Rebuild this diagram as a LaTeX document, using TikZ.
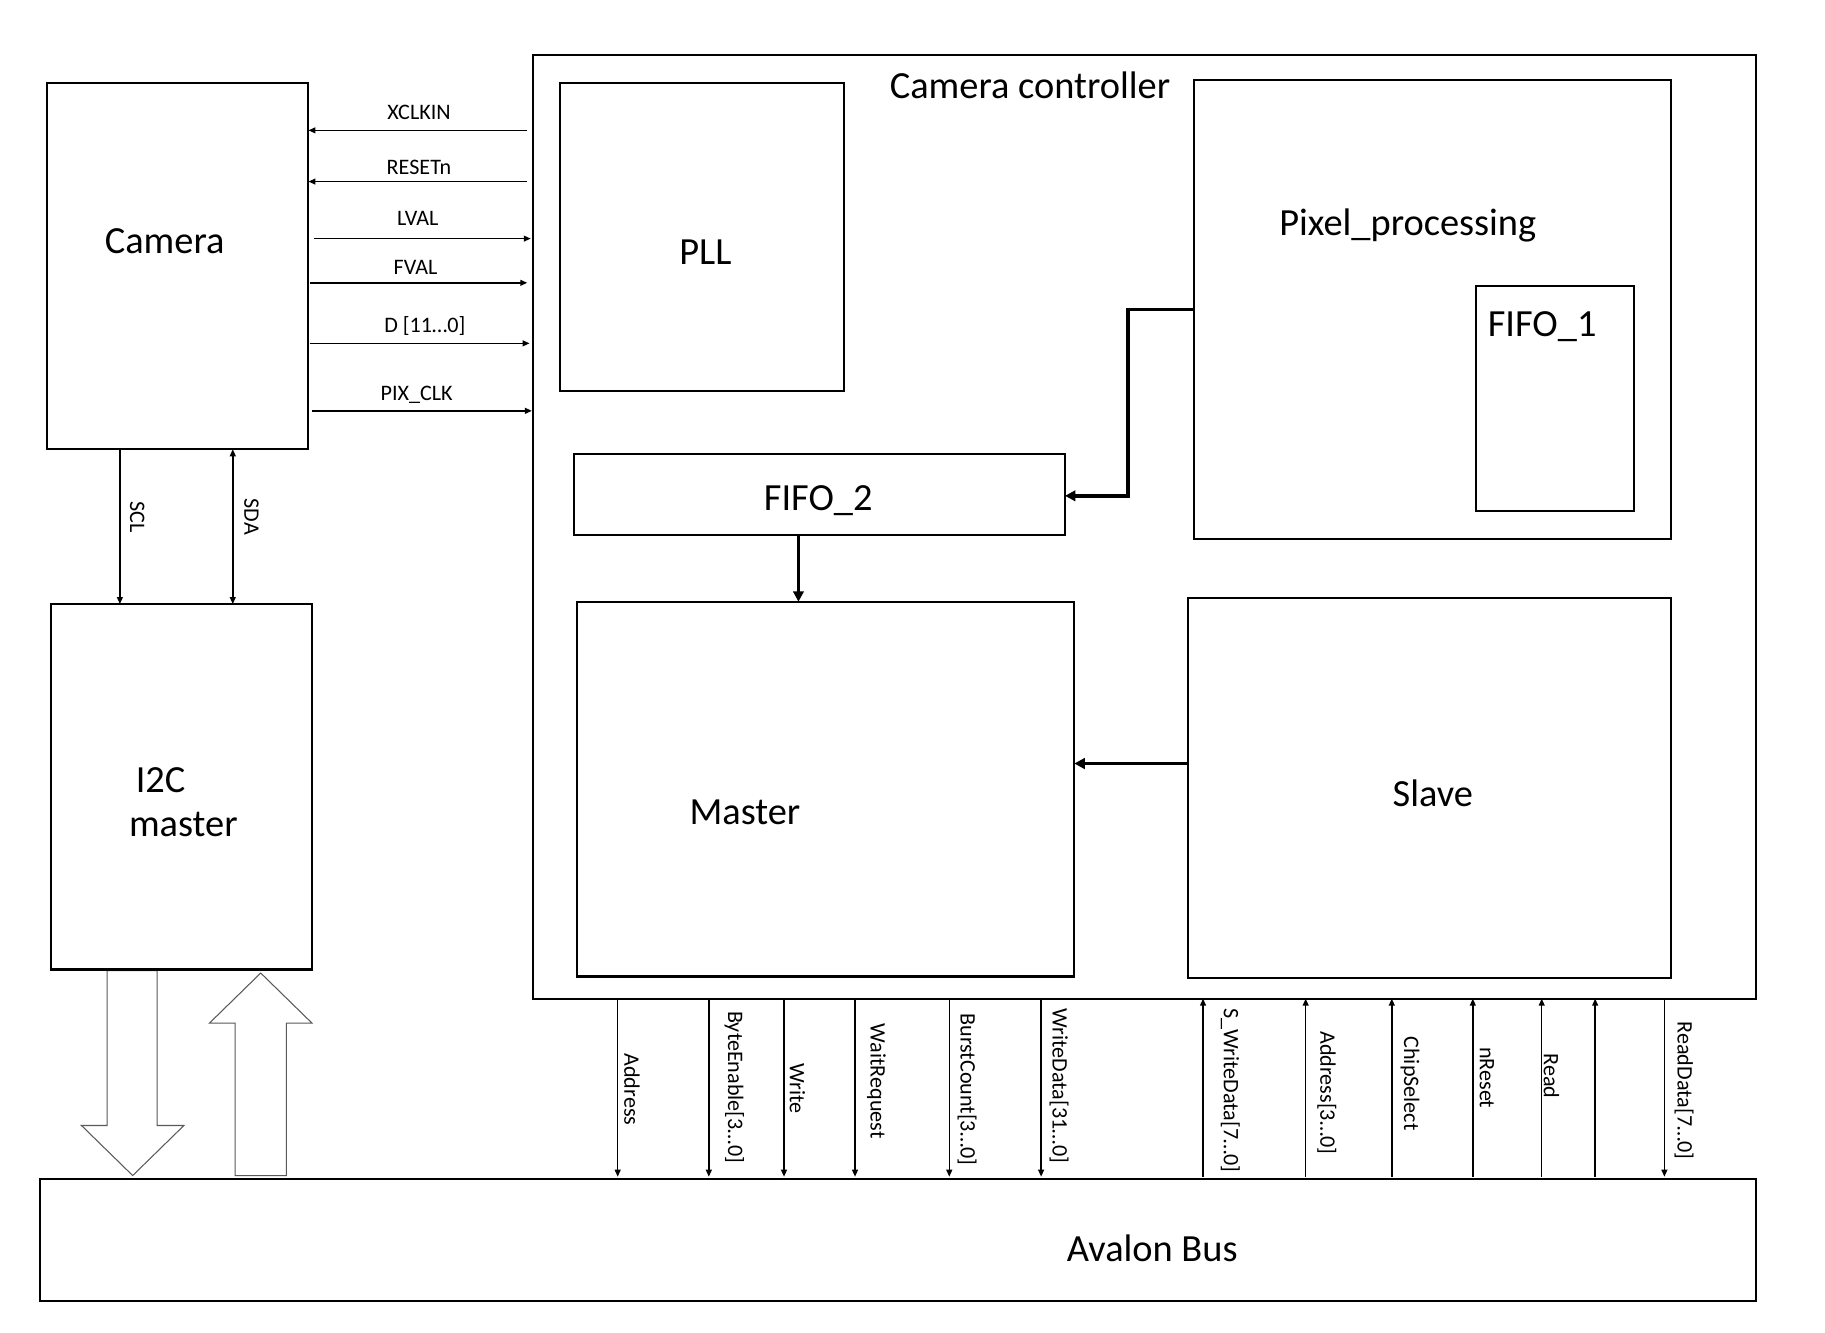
\documentclass[tikz,border=0pt]{standalone}
\usepackage{fontspec}
\setmainfont{Carlito}
\usetikzlibrary{arrows.meta}
\begin{document}
\begin{tikzpicture}[x=1pt,y=-1pt,
  box/.style={draw, line width=1.8pt, inner sep=0pt, outer sep=0pt},
  big/.style={font=\fontsize{33}{40}\selectfont, anchor=base, inner sep=0pt},
  small/.style={font=\fontsize{19}{23}\selectfont, anchor=base, inner sep=0pt},
  vlab/.style={font=\fontsize{19}{23}\selectfont, rotate=-90, inner sep=0pt},
  sig/.style={line width=1.3pt, -{Triangle[length=6pt,width=5pt]}},
  sigr/.style={line width=1.3pt, {Triangle[length=6pt,width=5pt]}-},
  sigb/.style={line width=1.3pt, {Triangle[length=6pt,width=5pt]}-{Triangle[length=6pt,width=5pt]}},
  bigarrow/.style={line width=3pt, -{Triangle[length=9pt,width=9pt]}},
  blk/.style={draw=black!65, line width=0.9pt, fill=white, line join=miter}]
\useasboundingbox[fill=white] (0,0) rectangle (1568,1145);

% boxes
\node[box, minimum width=225pt, minimum height=315pt] (cam) at (152.5,228.5) {};
\node[box, minimum width=224pt, minimum height=314pt] (i2c) at (156,676) {};
\node[box, minimum width=1051pt, minimum height=811pt] (ctrl) at (983.5,452.5) {};
\node[box, minimum width=244pt, minimum height=265pt] (pll) at (603,203.5) {};
\node[box, minimum width=410pt, minimum height=394pt] (pix) at (1231,266) {};
\node[box, minimum width=136pt, minimum height=193pt] (fifoA) at (1336,342.5) {};
\node[box, minimum width=422pt, minimum height=70pt] (fifoB) at (704,425) {};
\node[box, minimum width=427pt, minimum height=322pt] (master) at (709.5,678) {};
\node[box, minimum width=415pt, minimum height=326pt] (slave) at (1228.5,677) {};
\node[box, minimum width=1475pt, minimum height=105pt] (bus) at (771.5,1065.5) {};

% big labels
\node[big] (camT) at (141.5,218) {Camera};
\node[big] (i2cT1) at (138,681) {I2C};
\node[big] (i2cT2) at (157.5,719) {master};
\node[big] (ctrlT) at (885,85) {Camera controller};
\node[big] (pllT) at (606,227) {PLL};
\node[big] (pixT) at (1209.5,202) {Pixel\_processing};
\node[big] (fifoAT) at (1325,289) {FIFO\_1};
\node[big] (fifoBT) at (703,439) {FIFO\_2};
\node[big] (masterT) at (640,708) {Master};
\node[big] (slaveT) at (1231,693) {Slave};
\node[big] (busT) at (990,1084) {Avalon Bus};

% camera <-> controller signals
\draw[sigr, shorten >=5pt] (cam.east |- 0,112) -- (ctrl.west |- 0,112);
\draw[sigr, shorten >=5pt] (cam.east |- 0,156) -- (ctrl.west |- 0,156);
\draw[sig, shorten <=5pt, shorten >=2pt] (cam.east |- 0,205) -- (ctrl.west |- 0,205);
\draw[sig, shorten <=1pt, shorten >=5pt] (cam.east |- 0,243) -- (ctrl.west |- 0,243);
\draw[sig, shorten <=1pt, shorten >=3pt] (cam.east |- 0,295) -- (ctrl.west |- 0,295);
\draw[sig, shorten <=3pt, shorten >=1pt] (cam.east |- 0,353) -- (ctrl.west |- 0,353);
\node[small] (lxclk) at (360,103) {XCLKIN};
\node[small] (lrst) at (360,150) {RESETn};
\node[small] (llval) at (359,194) {LVAL};
\node[small] (lfval) at (357,236) {FVAL};
\node[small] (ld) at (365,286) {D [11…0]};
\node[small] (lpix) at (358,344) {PIX\_CLK};

% I2C
\draw[sig] (cam.south -| 103,0) -- (i2c.north -| 103,0);
\draw[sigb] (cam.south -| 200,0) -- (i2c.north -| 200,0);
\node[vlab] (lscl) at (118,444) {SCL};
\node[vlab] (lsda) at (216,444) {SDA};

% block arrows
\draw[blk] (92,834) -- (92,967) -- (70,967) -- (114,1010) -- (158,967) -- (135,967) -- (135,834) -- cycle;
\draw[blk] (224,836) -- (180,879) -- (202,879) -- (202,1010) -- (246,1010) -- (246,879) -- (268,879) -- cycle;
\draw[line width=1.8pt] (i2c.south west) -- (i2c.south east);

% internal arrows
\draw[bigarrow] (pix.west |- 0,266) -- (969,266) -- (969,426) -- (fifoB.east |- 0,426);
\draw[bigarrow] (fifoB.south -| 686,0) -- (master.north -| 686,0);
\draw[bigarrow] (slave.west |- 0,656) -- (master.east |- 0,656);

% bus signals: down
\foreach \x in {530.7,609,673.6,734.6,815.6,894.5,1430}
  \draw[sig, shorten >=2pt] (ctrl.south -| \x,0) -- (bus.north -| \x,0);
% bus signals: up
\foreach \x in {1033.6,1121.8,1195.8,1265.4,1324.6,1370.5}
  \draw[sig, shorten <=2pt] (bus.north -| \x,0) -- (ctrl.south -| \x,0);

\node[vlab] (lad) at (543,936) {Address};
\node[vlab] (lbe) at (631,934) {ByteEnable[3…0]};
\node[vlab] (lwr) at (685,935) {Write};
\node[vlab] (lwait) at (753,929) {WaitRequest};
\node[vlab] (lbc) at (831,936) {BurstCount[3…0]};
\node[vlab] (lwd) at (910,933) {WriteData[31…0]};
\node[vlab] (lswd) at (1057,937) {S\_WriteData[7…0]};
\node[vlab] (lsad) at (1140,939) {Address[3…0]};
\node[vlab] (lcs) at (1211.5,931) {ChipSelect};
\node[vlab] (lnr) at (1277.5,926) {nReset};
\node[vlab] (lrd) at (1333,924.5) {Read};
\node[vlab] (lrdd) at (1447,937) {ReadData[7…0]};
\end{tikzpicture}
\end{document}
